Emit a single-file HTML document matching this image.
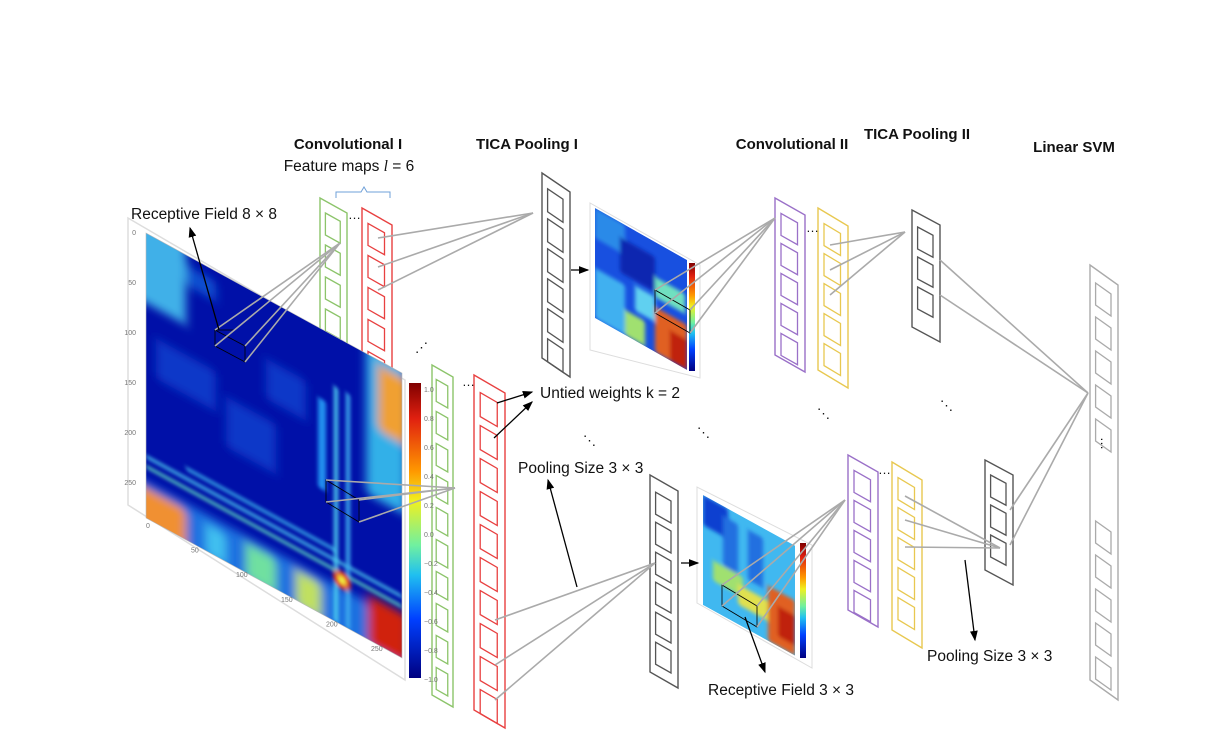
<!DOCTYPE html>
<html><head><meta charset="utf-8"><style>
html,body{margin:0;padding:0;background:#fff;}
svg{display:block;font-family:"Liberation Sans",sans-serif;}
.t{font-size:15.5px;fill:#111;}
.b{font-size:15px;font-weight:bold;fill:#111;}
.tk{font-size:7px;fill:#777;}
</style></head><body>
<svg id="s" width="1226" height="750" viewBox="0 0 1226 750">
<defs>
<filter id="bl" x="-20%" y="-20%" width="140%" height="140%"><feGaussianBlur stdDeviation="5"/></filter>
<filter id="bl2" x="-20%" y="-20%" width="140%" height="140%"><feGaussianBlur stdDeviation="2"/></filter>
<clipPath id="hc"><rect x="0" y="0" width="256" height="285"/></clipPath>
<clipPath id="hc2"><rect x="0" y="0" width="92" height="110"/></clipPath>
<marker id="ah" markerWidth="8" markerHeight="8" refX="7" refY="4" orient="auto"><path d="M0,1 L8,4 L0,7 z" fill="#000"/></marker>
<linearGradient id="cb" x1="0" y1="0" x2="0" y2="1">
<stop offset="0" stop-color="#800000"/><stop offset="0.12" stop-color="#e02010"/><stop offset="0.3" stop-color="#ff9900"/><stop offset="0.4" stop-color="#f0f020"/><stop offset="0.55" stop-color="#70f0a0"/><stop offset="0.65" stop-color="#20c0f0"/><stop offset="0.8" stop-color="#0040ff"/><stop offset="1" stop-color="#000080"/>
</linearGradient>
</defs>

<text class="b" x="348" y="149" text-anchor="middle">Convolutional I</text>
<text class="t" x="349" y="171" text-anchor="middle">Feature maps <tspan font-family="Liberation Serif" font-style="italic">l</tspan> = 6</text>
<path d="M336,198 v-6 h25 l3,-5 l3,5 h23 v6" fill="none" stroke="#6fa0d8" stroke-width="1"/>
<text class="b" x="527" y="149" text-anchor="middle">TICA Pooling I</text>
<text class="b" x="792" y="149" text-anchor="middle">Convolutional II</text>
<text class="b" x="917" y="139" text-anchor="middle">TICA Pooling II</text>
<text class="b" x="1074" y="152" text-anchor="middle">Linear SVM</text>

<g id="cols"></g>

<g>
<path d="M128,218 L128,505 L405,680 L405,380 Z" fill="#fff" stroke="#ddd" stroke-width="1.5"/>
<g transform="matrix(1,0.547,0,1,146,233)" clip-path="url(#hc)">
<rect x="0" y="0" width="256" height="285" fill="#0010a8"/>
<g filter="url(#bl)">
<rect x="-10" y="-10" width="50" height="80" fill="#40b0e8"/>
<rect x="40" y="10" width="30" height="20" fill="#1050d0"/>
<rect x="10" y="100" width="60" height="40" fill="#0838c8"/>
<rect x="80" y="120" width="50" height="50" fill="#0838c8"/>
<rect x="120" y="60" width="40" height="40" fill="#0838c8"/>
<rect x="-10" y="248" width="270" height="50" fill="#1a70e0"/>
<rect x="-10" y="255" width="50" height="40" fill="#f09030"/>
<rect x="60" y="258" width="20" height="30" fill="#40c0f0"/>
<rect x="100" y="255" width="30" height="35" fill="#70e0a0"/>
<rect x="150" y="255" width="25" height="35" fill="#c0e060"/>
<rect x="220" y="-10" width="40" height="150" fill="#30b0e8"/>
<rect x="232" y="5" width="30" height="65" fill="#f0a030"/>
<rect x="222" y="240" width="40" height="50" fill="#d02010"/>
</g>
<g filter="url(#bl2)">
<rect x="0" y="222" width="256" height="3" fill="#50d0f0"/>
<rect x="0" y="232" width="256" height="3" fill="#60e0c0"/>
<rect x="40" y="212" width="150" height="3" fill="#40c0f0"/>
<rect x="188" y="50" width="4" height="235" fill="#50d0f0"/>
<rect x="200" y="50" width="4" height="235" fill="#40b0f0"/>
<rect x="172" y="70" width="8" height="90" fill="#2090f0"/>
<circle cx="196" cy="240" r="9" fill="#e04020"/>
<circle cx="196" cy="240" r="4" fill="#f0f040"/>
</g>
</g>
<path d="M146,233 L146,518 L402,658 L402,373 Z" fill="none" stroke="#bbb" stroke-width="0.6"/>
<rect x="409" y="383" width="12" height="295" fill="url(#cb)"/>
<g id="cbt"></g>
<g id="hmt"></g>
<path d="M215,330 L215,346 L245,362 L245,346 Z M215,330 L235,330" fill="none" stroke="#000" stroke-width="0.8"/>
<path d="M326,480 L326,502 L359,522 L359,500 Z" fill="none" stroke="#000" stroke-width="0.8"/>
</g>

<g>
<path d="M590,203 L590,350 L700,378 L700,265 Z" fill="#fff" stroke="#ddd"/>
<g transform="matrix(1,0.565,0,1,595,208)" clip-path="url(#hc2)">
<rect width="92" height="110" fill="#1850e0"/>
<g filter="url(#bl2)">
<rect x="0" y="0" width="30" height="30" fill="#2a8ae8"/>
<rect x="25" y="15" width="35" height="35" fill="#0828b0"/>
<rect x="0" y="60" width="30" height="50" fill="#40b0f0"/>
<rect x="40" y="55" width="20" height="25" fill="#60d0f0"/>
<rect x="60" y="65" width="32" height="45" fill="#e06020"/>
<rect x="75" y="80" width="17" height="30" fill="#c02010"/>
<rect x="60" y="35" width="30" height="20" fill="#70e0c0"/>
<rect x="30" y="85" width="20" height="25" fill="#a0e070"/>
</g></g>
<rect x="689" y="263" width="6" height="108" fill="url(#cb)"/>
<path d="M655,290 L655,313 L690,333 L690,310 Z" fill="none" stroke="#000" stroke-width="0.8"/>
</g>

<g>
<path d="M697,487 L697,603 L812,668 L812,545 Z" fill="#fff" stroke="#ddd"/>
<g transform="matrix(1,0.55,0,1,703,495)" clip-path="url(#hc2)">
<rect width="92" height="110" fill="#40b8f0"/>
<g filter="url(#bl2)">
<rect x="0" y="0" width="25" height="30" fill="#1040d0"/>
<rect x="20" y="10" width="15" height="60" fill="#2070e0"/>
<rect x="45" y="10" width="15" height="50" fill="#2070e0"/>
<rect x="10" y="60" width="30" height="20" fill="#a0e070"/>
<rect x="35" y="70" width="30" height="20" fill="#e0e050"/>
<rect x="65" y="55" width="27" height="55" fill="#e06020"/>
<rect x="75" y="70" width="17" height="30" fill="#c02010"/>
</g></g>
<rect x="800" y="543" width="6" height="115" fill="url(#cb)"/>
<path d="M722,585 L722,606 L757,627 L757,606 Z" fill="none" stroke="#000" stroke-width="0.8"/>
</g>

<g id="lines" stroke="#aaa" stroke-width="1.6" fill="none"></g>

<g stroke="#000" stroke-width="1.3" fill="none">
<line x1="219" y1="330" x2="190" y2="228" marker-end="url(#ah)"/>
<line x1="571" y1="270" x2="588" y2="270" marker-end="url(#ah)"/>
<line x1="681" y1="563" x2="698" y2="563" marker-end="url(#ah)"/>
<line x1="497" y1="403" x2="532" y2="392" marker-end="url(#ah)"/>
<line x1="494" y1="438" x2="532" y2="402" marker-end="url(#ah)"/>
<line x1="577" y1="587" x2="548" y2="480" marker-end="url(#ah)"/>
<line x1="745" y1="617" x2="765" y2="672" marker-end="url(#ah)"/>
<line x1="965" y1="560" x2="975" y2="640" marker-end="url(#ah)"/>
</g>

<text class="t" x="131" y="219">Receptive Field 8 × 8</text>
<text class="t" x="540" y="398">Untied weights k = 2</text>
<text class="t" x="518" y="473">Pooling Size  3 × 3</text>
<text class="t" x="708" y="695">Receptive Field 3 × 3</text>
<text class="t" x="927" y="661">Pooling Size  3 × 3</text>

<g font-size="13" fill="#111">
<text x="348" y="219">…</text><text x="462" y="386">…</text><text x="415" y="352">⋰</text>
<text x="583" y="445">⋱</text><text x="697" y="437">⋱</text><text x="817" y="418">⋱</text><text x="940" y="410">⋱</text>
<text x="806" y="232">…</text><text x="878" y="474">…</text>
<text x="1103" y="445" transform="rotate(90 1106 440)">…</text>
</g>
</svg>
<script>
var NS='http://www.w3.org/2000/svg';
function mk(tag,attrs,parent){var e=document.createElementNS(NS,tag);for(var k in attrs)e.setAttribute(k,attrs[k]);parent.appendChild(e);return e;}
var cols=document.getElementById('cols');
var colSpecs=[
 [320,198,27,160,15,4,'#8cc46a','conv1-map-green-top',12,32,22],
 [362,208,30,150,17,6,'#e84040','conv1-map-red-top',12,32,22],
 [432,365,21,330,12,10,'#8cc46a','conv1-map-green-bottom',12,32,22],
 [474,375,31,335,18,10,'#e84040','conv1-map-red-bottom',14,33,24],
 [542,173,28,185,19,6,'#555','pool1-column-top',12,30,23],
 [650,475,28,197,16,6,'#555','pool1-column-bottom',14,30,22],
 [775,198,30,157,17,5,'#9a70c8','conv2-map-purple-top',12,30,22],
 [818,208,30,162,18,5,'#e8c850','conv2-map-yellow-top',12,30,22],
 [848,455,30,155,17,5,'#9a70c8','conv2-map-purple-bottom',12,30,22],
 [892,462,30,168,18,5,'#e8c850','conv2-map-yellow-bottom',12,30,22],
 [912,210,28,117,15,3,'#555','pool2-column-top',14,30,22],
 [985,460,28,110,15,3,'#555','pool2-column-bottom',12,30,22],
 [1090,265,28,415,20,12,'#aaa','svm-column',14,34,22]
];
colSpecs.forEach(function(c){
 var x=c[0],y=c[1],w=c[2],h=c[3],d=c[4],n=c[5],col=c[6];
 var g=mk('g',{},cols);
 
 
 mk('path',{d:'M'+x+','+y+' L'+(x+w)+','+(y+d)+' L'+(x+w)+','+(y+h+d)+' L'+x+','+(y+h)+' Z',fill:'#fff',stroke:col,'stroke-width':1.4},g);
 var s=d/w,bx=x+w*0.2,bw=w*0.55;
 for(var i=0;i<n;i++){
  var by=y+c[8]+i*c[9]+s*(bx-x);
  if(c[7]==='svm-column'&&i>=5&&i<7)continue;
  var b=mk('path',{d:'M'+bx+','+by+' L'+(bx+bw)+','+(by+s*bw)+' L'+(bx+bw)+','+(by+s*bw+c[10])+' L'+bx+','+(by+c[10])+' Z',fill:'none',stroke:col,'stroke-width':1.3},g);
  
  
 }
});
var L=document.getElementById('lines');
var segs=[
 [215,330,340,243],[215,346,340,243],[245,346,340,243],[245,362,340,243],
 [378,238,533,213],[378,267,533,213],[378,290,533,213],
 [326,480,455,488],[326,502,455,488],[359,500,455,488],[359,522,455,488],
 [495,620,655,563],[495,665,655,563],[495,700,655,563],
 [655,290,775,218],[655,313,775,218],[690,310,775,218],[690,333,775,218],
 [830,245,905,232],[830,270,905,232],[830,295,905,232],
 [940,260,1088,393],[940,295,1088,393],
 [722,585,845,500],[722,606,845,500],[757,606,845,500],[757,627,845,500],
 [905,496,1000,548],[905,520,1000,548],[905,547,1000,548],
 [1010,510,1088,393],[1010,545,1088,393]
];
segs.forEach(function(p){mk('line',{x1:p[0],y1:p[1],x2:p[2],y2:p[3]},L);});
var cbt=document.getElementById('cbt');
var cbLabels=['1.0','0.8','0.6','0.4','0.2','0.0','−0.2','−0.4','−0.6','−0.8','−1.0'];
cbLabels.forEach(function(t,i){var e=mk('text',{x:424,y:392+i*29,'class':'tk'},cbt);e.textContent=t;});
var hmt=document.getElementById('hmt');
var axLabels=['0','50','100','150','200','250'];
axLabels.forEach(function(t,i){
 var e=mk('text',{x:136,y:235+i*50,'class':'tk','text-anchor':'end'},hmt);e.textContent=t;
 var u=i*45;var e2=mk('text',{x:146+u,y:528+u*0.547,'class':'tk'},hmt);e2.textContent=t;
});
</script>
</body></html>
